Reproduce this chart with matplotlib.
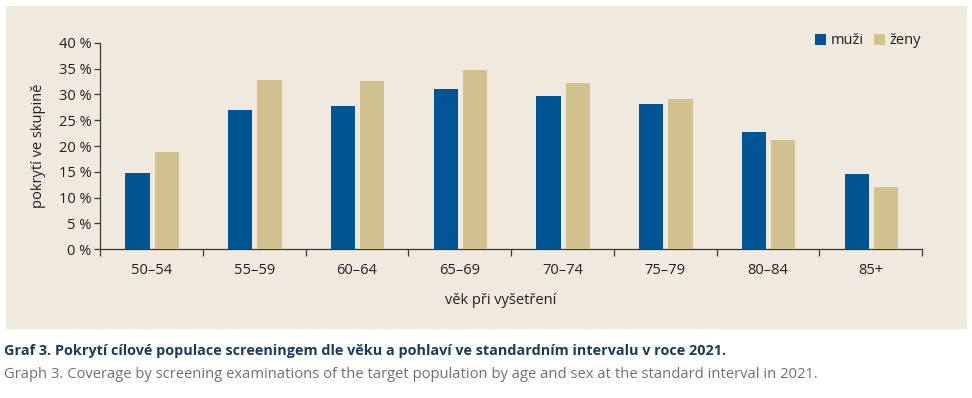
import matplotlib
matplotlib.use("Agg")
import matplotlib.pyplot as plt
import numpy as np
from matplotlib.patches import Rectangle

plt.rcParams['font.family'] = ['Open Sans', 'DejaVu Sans']

categories = ["50–54", "55–59", "60–64", "65–69", "70–74", "75–79", "80–84", "85+"]
muzi = [14.8, 27.0, 27.7, 31.0, 29.7, 28.1, 22.7, 14.6]
zeny = [18.8, 32.8, 32.6, 34.7, 32.2, 29.1, 21.2, 12.1]
yticks = [0, 5, 10, 15, 20, 25, 30, 35, 40]

BLUE = '#005694'
TAN = '#D2C290'
BEIGE = '#EFE9DE'
TXT = '#231F20'

W, H = 972, 398
fig = plt.figure(figsize=(W / 100, H / 100), dpi=100, facecolor='white')

# beige panel behind the chart
fig.patches.append(Rectangle((6 / W, 1 - 329 / H), (967 - 6) / W, (329 - 6) / H,
                             transform=fig.transFigure, facecolor=BEIGE,
                             edgecolor='none', zorder=-5))

ax = fig.add_axes([100 / W, 1 - 249.3 / H, (922 - 100) / W, (249.3 - 42.7) / H])
ax.set_zorder(2)
ax.set_facecolor('none')

x = np.arange(len(categories))
bw = 0.235
ax.bar(x - 0.135, muzi, bw, color=BLUE, label='muži', zorder=3)
ax.bar(x + 0.15, zeny, bw, color=TAN, label='ženy', zorder=3)

ax.set_xlim(-0.5, len(categories) - 0.5)
ax.set_ylim(0, 40)

for s in ['top', 'right']:
    ax.spines[s].set_visible(False)
for s in ['left', 'bottom']:
    ax.spines[s].set_color('#3a3a3a')
    ax.spines[s].set_linewidth(0.9)

ax.set_yticks(yticks)
ax.set_yticklabels([f"{v} %" for v in yticks], fontsize=10.5, color=TXT)
ax.tick_params(axis='y', direction='out', length=4, width=0.9, color='#3a3a3a', pad=2)

ax.set_xticks(np.arange(len(categories) + 1) - 0.5)
ax.set_xticklabels([])
ax.set_xticks(x, minor=True)
ax.set_xticklabels(categories, minor=True, fontsize=10.5, color=TXT)
ax.tick_params(axis='x', which='major', direction='out', length=5, width=0.9, color='#3a3a3a')
ax.tick_params(axis='x', which='minor', length=0, pad=10)

ax.set_xlabel('věk při vyšetření', fontsize=10.5, color=TXT, labelpad=11)
ax.xaxis.label.set_x(0.487)
ax.set_ylabel('pokrytí ve skupině', fontsize=10.5, color=TXT, labelpad=9)

leg = ax.legend(loc='upper right', bbox_to_anchor=(0.999, 1.045), ncol=2, frameon=False,
                fontsize=10.5, handlelength=0.75, handleheight=0.75,
                handletextpad=0.35, columnspacing=0.65, borderaxespad=0, borderpad=0)
for t in leg.get_texts():
    t.set_color(TXT)

fig.text(4 / W, 1 - 351 / H, "Graf 3. Pokrytí cílové populace screeningem dle věku a pohlaví ve standardním intervalu v roce 2021.",
         fontsize=10.35, fontweight='bold', color='#1B3A5E', va='center', ha='left')
fig.text(4 / W, 1 - 375 / H, "Graph 3. Coverage by screening examinations of the target population by age and sex at the standard interval in 2021.",
         fontsize=10.6, color='#707070', va='center', ha='left')

fig.savefig('out.png', dpi=100, facecolor='white')
